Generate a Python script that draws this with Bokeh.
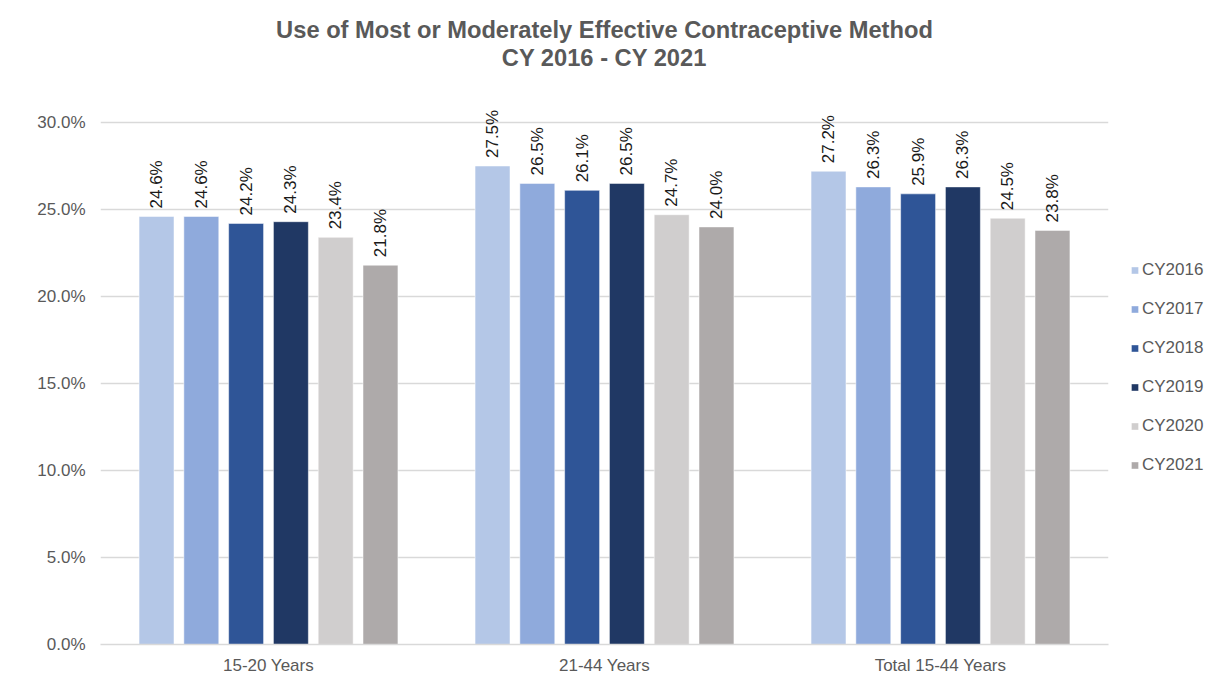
from bokeh.plotting import figure
from bokeh.models import (ColumnDataSource, Range1d, FactorRange, FixedTicker, NumeralTickFormatter,
                          Legend, LegendItem, Title)
from bokeh.transform import dodge
from bokeh.core.properties import value
from bokeh.embed import file_html
from bokeh.resources import INLINE
import math

groups = ["15-20 Years", "21-44 Years", "Total 15-44 Years"]
series = ["CY2016", "CY2017", "CY2018", "CY2019", "CY2020", "CY2021"]
colors = ["#b4c7e7", "#8faadc", "#2f5597", "#203864", "#d0cece", "#aeaaaa"]
values = {
    "CY2016": [24.6, 27.5, 27.2],
    "CY2017": [24.6, 26.5, 26.3],
    "CY2018": [24.2, 26.1, 25.9],
    "CY2019": [24.3, 26.5, 26.3],
    "CY2020": [23.4, 24.7, 24.5],
    "CY2021": [21.8, 24.0, 23.8],
}
y_ticks = [0, 0.05, 0.10, 0.15, 0.20, 0.25, 0.30]

FONT = "Liberation Sans"
GRAY = "#595959"

p = figure(frame_width=1008, frame_height=554,
           x_range=FactorRange(factors=groups, range_padding=0),
           y_range=Range1d(0, 0.3184), output_backend="svg", toolbar_location=None,
           min_border_left=100, min_border_right=100, min_border_top=90, min_border_bottom=20,
           title=None)
# blank spacer between the plot area and the two title lines
p.add_layout(Title(text=" ", text_font_size="2px", standoff=16, text_color="#ffffff"), "above")
p.add_layout(Title(text="CY 2016 - CY 2021", align="center", text_font=FONT,
                   text_font_size="23.7px", text_font_style="bold", text_color=GRAY,
                   standoff=0), "above")
p.add_layout(Title(text="Use of Most or Moderately Effective Contraceptive Method", align="center",
                   text_font=FONT, text_font_size="23.7px", text_font_style="bold",
                   text_color=GRAY, standoff=0), "above")

step = 0.1333
width = 0.104
items = []
for i, s in enumerate(series):
    off = (i - 2.5) * step
    src = ColumnDataSource(dict(g=groups, v=[x / 100 for x in values[s]],
                                lab=["%.1f%%" % x for x in values[s]]))
    r = p.vbar(x=dodge("g", off, range=p.x_range), top="v", width=width, source=src,
               fill_color=colors[i], line_color="white", line_width=0.5)
    p.text(x=dodge("g", off, range=p.x_range), y="v", text="lab", source=src, angle=math.pi / 2,
           text_align="left", text_baseline="middle", y_offset=-8, x_offset=0,
           text_font=value(FONT), text_font_size="17px", text_color="#1a1a1a")
    items.append(LegendItem(label=s, renderers=[r]))

legend = Legend(items=items, location="center_left", orientation="vertical",
                glyph_width=9, glyph_height=9, label_height=20, spacing=19,
                label_standoff=3, margin=22, padding=4, border_line_color=None,
                label_text_font=FONT, label_text_font_size="17px", label_text_color=GRAY,
                background_fill_alpha=0)
p.add_layout(legend, "right")

p.yaxis.ticker = FixedTicker(ticks=y_ticks)
p.yaxis.formatter = NumeralTickFormatter(format="0.0%")
p.yaxis.axis_line_color = None
p.yaxis.major_tick_line_color = None
p.yaxis.minor_tick_line_color = None
p.yaxis.major_label_standoff = 9
p.yaxis.major_label_text_font = FONT
p.yaxis.major_label_text_font_size = "17px"
p.yaxis.major_label_text_color = GRAY

p.xaxis.axis_line_color = "#d9d9d9"
p.xaxis.axis_line_width = 1.5
p.xaxis.major_tick_line_color = None
p.xaxis.minor_tick_line_color = None
p.xaxis.major_label_standoff = 5
p.xaxis.major_label_text_font = FONT
p.xaxis.major_label_text_font_size = "17px"
p.xaxis.major_label_text_color = GRAY

p.xgrid.grid_line_color = None
p.ygrid.grid_line_color = "#d9d9d9"
p.ygrid.grid_line_width = 1.5
p.outline_line_color = None

open("out.html", "w").write(file_html(p, INLINE))
